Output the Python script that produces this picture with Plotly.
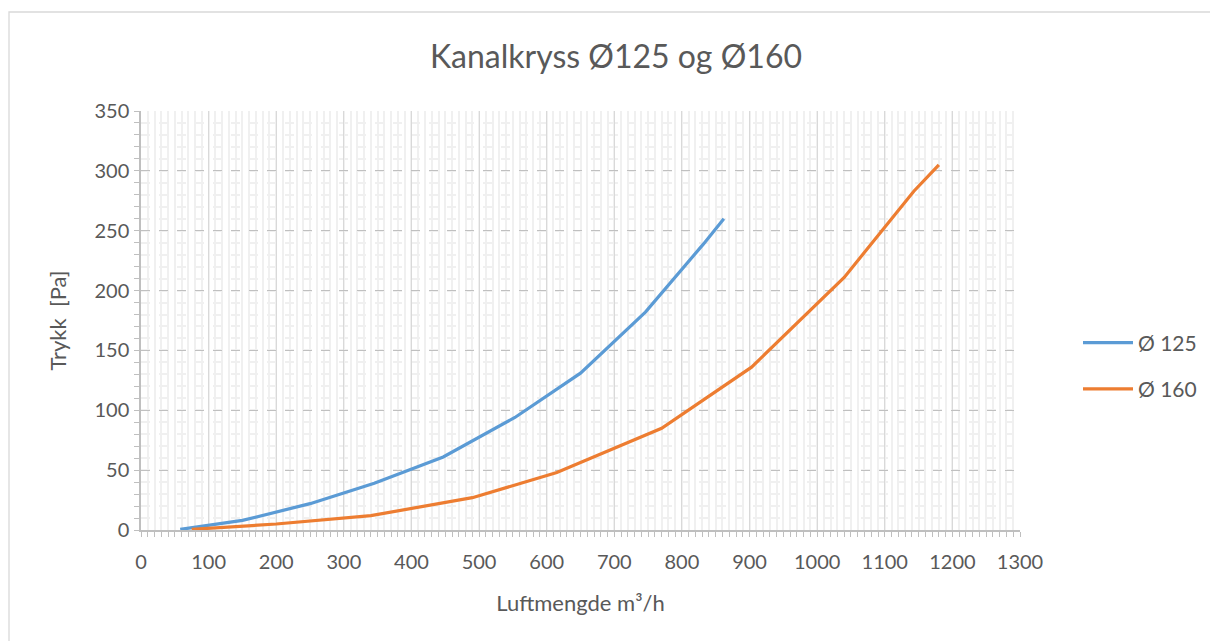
import plotly.graph_objects as go

title_text = "Kanalkryss Ø125 og Ø160"
x_title = "Luftmengde m³/h"
y_title = "Trykk  [Pa]"

name_125 = "Ø 125"
x_125 = [58, 150, 250, 345, 447, 553, 650, 746, 832, 862]
y_125 = [0.5, 8, 22, 39, 61, 94, 131, 182, 239, 260]

name_160 = "Ø 160"
x_160 = [75, 150, 200, 340, 490, 615, 770, 903, 1040, 1143, 1180]
y_160 = [0.5, 3, 5, 12, 27, 48, 85, 136, 211, 283, 305]

x_ticks = list(range(0, 1301, 100))
y_ticks = list(range(0, 351, 50))

W, H = 1210, 641
L, R, T, B = 141, 190, 111, 111
pw, ph = W - L - R, H - T - B

fig = go.Figure()
fig.add_trace(go.Scatter(x=x_125, y=y_125, mode="lines", name=name_125, legendgroup="a",
                         line=dict(color="#5B9BD5", width=3.2)))
fig.add_trace(go.Scatter(x=x_160, y=y_160, mode="lines", name=name_160, legendgroup="b",
                         line=dict(color="#ED7D31", width=3.2)))

font_fam = "Lato, 'Open Sans', sans-serif"
txt = "#595959"
fig.update_layout(
    width=W, height=H,
    margin=dict(l=L, r=R, t=T, b=B, autoexpand=False),
    paper_bgcolor="white", plot_bgcolor="white",
    font=dict(family=font_fam, color=txt, size=20),
    title=dict(text=title_text, x=616 / W, xanchor="center", y=1 - 57 / H, yanchor="middle",
               font=dict(size=32, color=txt, family=font_fam)),
    legend=dict(x=(1078 - L) / pw, xanchor="left", y=(530 - 366) / ph, yanchor="middle",
                font=dict(size=21, color=txt), bgcolor="rgba(0,0,0,0)",
                tracegroupgap=16, itemwidth=50),
    xaxis=dict(range=[0, 1300], tickvals=x_ticks, ticktext=[str(v) for v in x_ticks],
               showgrid=True, gridcolor="#d9d9d9", gridwidth=1.3,
               showline=True, linecolor="#bfbfbf", linewidth=1.5,
               ticks="outside", ticklen=5, tickcolor="#bfbfbf",
               ticklabelstandoff=8,
               zeroline=False,
               title=dict(text=x_title, font=dict(size=22, color=txt), standoff=24),
               tickfont=dict(size=20, color=txt),
               minor=dict(dtick=10, showgrid=True, gridcolor="#f0f0f0", gridwidth=2,
                          ticks="outside", ticklen=5, tickcolor="#bfbfbf")),
    yaxis=dict(range=[0, 350], tickvals=y_ticks, ticktext=[str(v) for v in y_ticks],
               showgrid=True, gridcolor="#c0c0c0", griddash="dash", gridwidth=1.3,
               showline=True, linecolor="#bfbfbf", linewidth=1.5,
               ticks="outside", ticklen=5, tickcolor="#bfbfbf",
               ticklabelstandoff=1,
               zeroline=False,
               title=dict(text=y_title, font=dict(size=22, color=txt), standoff=22),
               tickfont=dict(size=20, color=txt),
               minor=dict(dtick=10, showgrid=True, gridcolor="#f0f0f0", gridwidth=2,
                          ticks="outside", ticklen=5, tickcolor="#bfbfbf")),
    shapes=[dict(type="rect", xref="paper", yref="paper",
                 x0=(9 - L) / pw, x1=(1215 - L) / pw,
                 y0=(530 - 650) / ph, y1=(530 - 12) / ph,
                 line=dict(color="#d9d9d9", width=1.3), fillcolor="rgba(0,0,0,0)", layer="below")],
)

fig.write_html("out.html", config={"displayModeBar": False},
               post_script="document.body.style.margin='0px';")
